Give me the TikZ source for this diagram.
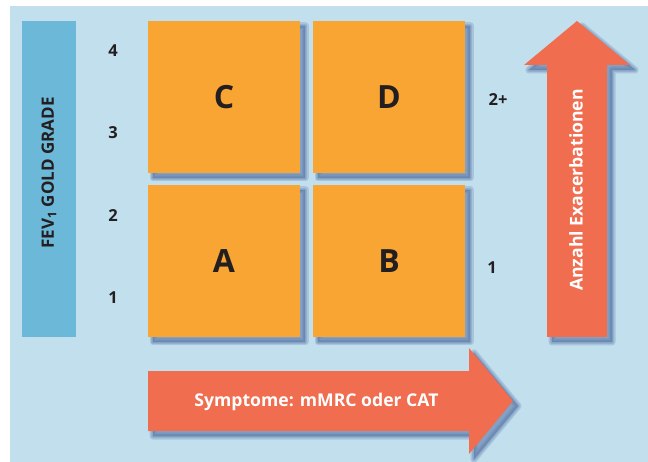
\documentclass[tikz,border=0pt]{standalone}
\usepackage{fontspec}
\setmainfont{Open Sans}
\definecolor{panel}{HTML}{C2DFEE}
\definecolor{barblue}{HTML}{6CB8D9}
\definecolor{quadorange}{HTML}{F9A533}
\definecolor{arrowred}{HTML}{F06D50}
\definecolor{inkdark}{HTML}{231F20}
\definecolor{shd}{HTML}{5877A7}
\begin{document}
\begin{tikzpicture}[x=1pt,y=-1pt,
  shadowlayer/.style={preaction={fill=shd, draw=shd, fill opacity=.25, draw opacity=.25,
      line join=round, line width=#1, transform canvas={xshift=5pt,yshift=-5pt}}},
  softshadow/.style={shadowlayer=7pt, shadowlayer=4pt, shadowlayer=1.5pt},
  quad/.style={softshadow, fill=quadorange, minimum width=152pt, minimum height=152pt,
      inner sep=0pt, text=inkdark, font=\bfseries\fontsize{32}{32}\selectfont},
  scalenum/.style={text=inkdark, font=\bfseries\fontsize{16.5}{16.5}\selectfont, inner sep=0pt},
  arrowtext/.style={text=white, font=\bfseries\fontsize{17.6}{17.6}\selectfont, inner sep=0pt}]
  % page and light panel
  \useasboundingbox (0,0) rectangle (648,462);
  \fill[white] (0,0) rectangle (648,462);
  \fill[panel] (10,6) rectangle (648,462);

  % vertical axis bar
  \fill[barblue] (22,21) rectangle (76,337);
  \node[scalenum, rotate=90, font=\bfseries\fontsize{17}{17}\selectfont] (fev) at (49,173)
       {FEV\textsubscript{1} GOLD GRADE};

  % GOLD grade scale
  \node[scalenum] (g4) at (113,50.5) {4};
  \node[scalenum] (g3) at (113,133) {3};
  \node[scalenum] (g2) at (113,215.5) {2};
  \node[scalenum] (g1) at (113,297.5) {1};

  % the four groups
  \node[quad] (C) at (224,97) {C};
  \node[quad] (D) at (389,97) {D};
  \node[quad] (A) at (224,261) {A};
  \node[quad] (B) at (389,261) {B};

  % exacerbation scale
  \node[scalenum] (e2) at (498,100) {2+};
  \node[scalenum] (e1) at (492,268) {1};

  % exacerbations arrow (up)
  \fill[softshadow, arrowred] (547,337) -- (547,65) -- (524,65) -- (577,21)
       -- (630,65) -- (607,65) -- (607,337) -- cycle;
  \node[arrowtext, rotate=90] (exac) at (576,190) {Anzahl Exacerbationen};

  % symptoms arrow (right)
  \fill[softshadow, arrowred] (148,371) -- (469,371) -- (469,348) -- (513,401)
       -- (469,454) -- (469,431) -- (148,431) -- cycle;
  \node[arrowtext] (sympt) at (316.5,402) {Symptome: mMRC oder CAT};
\end{tikzpicture}
\end{document}
